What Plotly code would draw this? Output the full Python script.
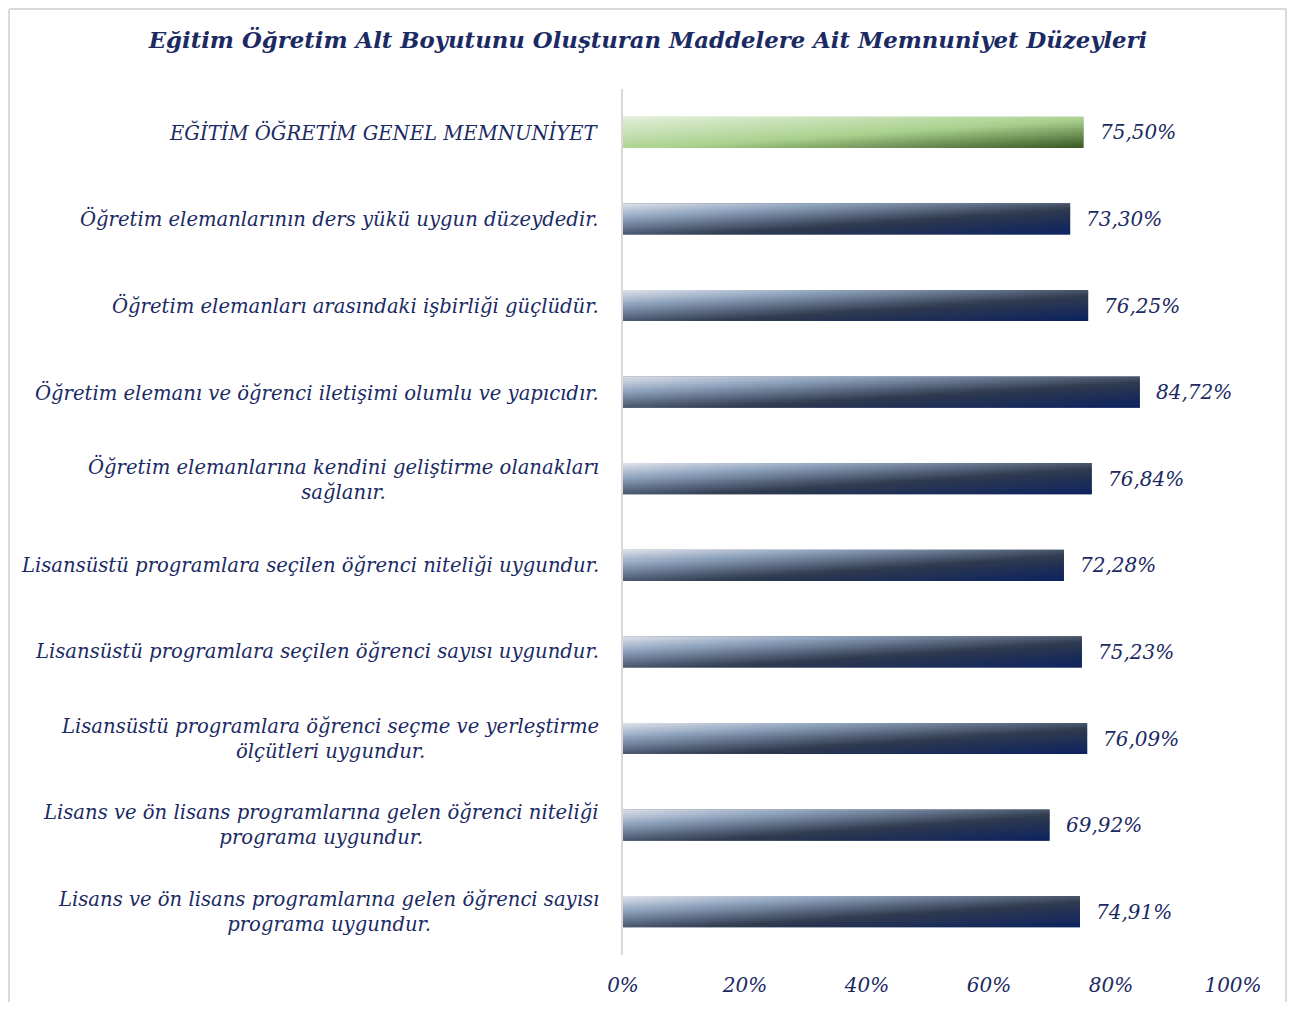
import plotly.graph_objects as go

categories = [
    "EĞİTİM ÖĞRETİM GENEL MEMNUNİYET",
    "Öğretim elemanlarının ders yükü uygun düzeydedir.",
    "Öğretim elemanları arasındaki işbirliği güçlüdür.",
    "Öğretim elemanı ve öğrenci iletişimi olumlu ve yapıcıdır.",
    "Öğretim elemanlarına kendini geliştirme olanakları<br>sağlanır.",
    "Lisansüstü programlara seçilen öğrenci niteliği uygundur.",
    "Lisansüstü programlara seçilen öğrenci sayısı uygundur.",
    "Lisansüstü programlara öğrenci seçme ve yerleştirme<br>ölçütleri uygundur.",
    "Lisans ve ön lisans programlarına gelen öğrenci niteliği<br>programa uygundur.",
    "Lisans ve ön lisans programlarına gelen öğrenci sayısı<br>programa uygundur.",
]
values = [75.50, 73.30, 76.25, 84.72, 76.84, 72.28, 75.23, 76.09, 69.92, 74.91]
x_ticks = [0, 20, 40, 60, 80, 100]
x_tick_labels = ["0%", "20%", "40%", "60%", "80%", "100%"]

FONT = "DejaVu Serif"
NAVY = "#1b2a63"
n = len(categories)
bar_h = 0.36
ypos = [n - 1 - i for i in range(n)]

W, H = 1279, 994
ML, MR, MT = 615, 1279 - 1225, 81
MB = H - 947.3
PW, PH = W - ML - MR, H - MT - MB

# diagonal gradient stops (top-left -> bottom-right)
blue_stops = [(0.0, "#e0e4ec"), (0.25, "#8ea2bd"), (0.6, "#2f3a4e"), (1.0, "#0b2260")]
green_stops = [(0.0, "#e3f0da"), (0.55, "#a9d18e"), (1.0, "#385723")]


def hex2rgb(h):
    h = h.lstrip("#")
    return [int(h[i:i + 2], 16) for i in (0, 2, 4)]


def color_at(stops, t):
    t = min(max(t, 0.0), 1.0)
    for (t0, c0), (t1, c1) in zip(stops[:-1], stops[1:]):
        if t <= t1:
            f = 0 if t1 == t0 else (t - t0) / (t1 - t0)
            a, b = hex2rgb(c0), hex2rgb(c1)
            return "rgb(%d,%d,%d)" % tuple(round(a[k] + (b[k] - a[k]) * f) for k in range(3))
    return "rgb(%d,%d,%d)" % tuple(hex2rgb(stops[-1][1]))


fig = go.Figure()
fig.add_trace(go.Bar(
    x=values, y=ypos, orientation="h", width=bar_h,
    marker=dict(color=["#a9d18e"] + ["#4f5b70"] * (n - 1), line=dict(width=0)),
    showlegend=False, hoverinfo="skip",
))

N_ROWS = 16
N_SAMP = 11
for i, (v, y) in enumerate(zip(values, ypos)):
    stops = green_stops if i == 0 else blue_stops
    top = y + bar_h / 2
    dh = bar_h / N_ROWS
    for k in range(N_ROWS):
        vv = (k + 0.5) / N_ROWS
        y1 = top - k * dh + dh * 0.15
        y0 = top - (k + 1) * dh - dh * 0.15
        y1 = min(y1, top)
        y0 = max(y0, y - bar_h / 2)
        cs = [[j / (N_SAMP - 1), color_at(stops, (j / (N_SAMP - 1) + vv) / 2)] for j in range(N_SAMP)]
        fig.add_trace(go.Scatter(
            x=[0, v, v, 0, 0], y=[y0, y0, y1, y1, y0],
            fill="toself", mode="lines", line=dict(width=0),
            fillgradient=dict(type="horizontal", colorscale=cs),
            showlegend=False, hoverinfo="skip",
        ))

annotations = []
for c, v, y in zip(categories, values, ypos):
    annotations.append(dict(
        x=0, y=y, xref="x", yref="y", text=c, showarrow=False,
        xanchor="right", yanchor="middle", align="center", xshift=-22,
        font=dict(family=FONT, size=19.6, color=NAVY, style="italic"),
    ))
    annotations.append(dict(
        x=v, y=y, xref="x", yref="y", text=f"{v:.2f}%".replace(".", ","), showarrow=False,
        xanchor="left", yanchor="middle", xshift=14,
        font=dict(family=FONT, size=20, color=NAVY, style="italic"),
    ))

border = "#dadada"
shapes = [
    dict(type="line", xref="paper", yref="paper",
         x0=(1 - ML) / PW, x1=(1 - ML) / PW, y0=-MB / PH - 0.01, y1=(H - MB - 1) / PH,
         line=dict(color=border, width=2)),
    dict(type="line", xref="paper", yref="paper",
         x0=(1 - ML) / PW, x1=(W - 1 - ML) / PW, y0=(H - MB - 1) / PH, y1=(H - MB - 1) / PH,
         line=dict(color=border, width=2)),
    dict(type="line", xref="paper", yref="paper",
         x0=(W - 1 - ML) / PW, x1=(W - 1 - ML) / PW, y0=-MB / PH - 0.01, y1=(H - MB - 1) / PH,
         line=dict(color=border, width=2)),
]

fig.update_layout(
    width=W, height=H,
    paper_bgcolor="white", plot_bgcolor="white",
    margin=dict(l=ML, r=MR, t=MT, b=MB, autoexpand=False),
    title=dict(
        text="Eğitim Öğretim Alt Boyutunu Oluşturan Maddelere Ait Memnuniyet Düzeyleri",
        x=(648 - 8) / W, xref="container", xanchor="center",
        y=1 - 32 / H, yref="container", yanchor="middle",
        font=dict(family=FONT, size=22.8, color=NAVY, style="italic", weight="bold"),
    ),
    xaxis=dict(
        range=[0, 100], tickvals=x_ticks, ticktext=x_tick_labels,
        showgrid=False, zeroline=False, showline=False, ticks="",
        tickfont=dict(family=FONT, size=20, color=NAVY, style="italic"),
        ticklabelstandoff=16, fixedrange=True, automargin=False,
    ),
    yaxis=dict(
        range=[-0.5, n - 0.5], showticklabels=False, showgrid=False, zeroline=False,
        showline=True, linecolor="#d9d9d9", linewidth=2, ticks="", fixedrange=True,
        automargin=False,
    ),
    annotations=annotations,
    shapes=shapes,
)

fig.write_html("out.html")
